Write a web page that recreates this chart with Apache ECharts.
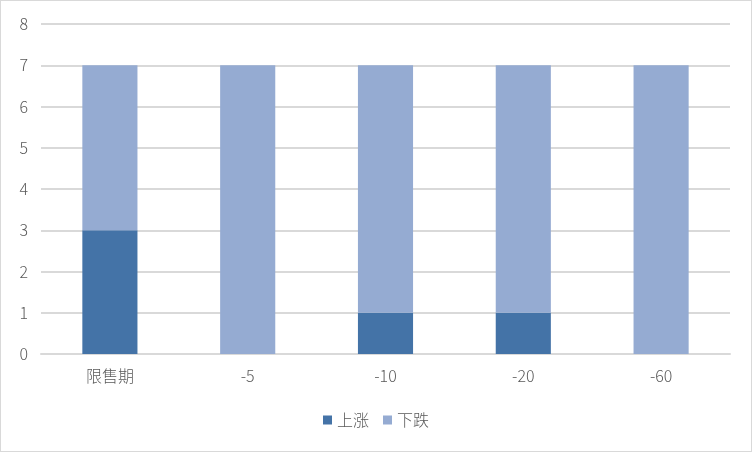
<!DOCTYPE html>
<html>
<head>
<meta charset="utf-8">
<script src="https://cdn.jsdelivr.net/npm/echarts@6/dist/echarts.min.js"></script>
<style>
  html, body { margin: 0; padding: 0; background: #fff; }
  #chart { width: 750px; height: 450px; border: 1px solid #d9d9d9; }
</style>
</head>
<body>
<div id="chart"></div>
<script>
var categories = ['限售期', '-5', '-10', '-20', '-60'];
var upValues = [3, 0, 1, 1, 0];
var downValues = [4, 7, 6, 6, 7];
var yTicks = [0, 8, 1];

var chart = echarts.init(document.getElementById('chart'));
var option = {
    animation: false,
    color: ['#4473A7', '#95ABD2'],
    grid: { left: 40, right: 21, top: 23, bottom: 97 },
    legend: {
        bottom: 18,
        itemWidth: 9,
        itemHeight: 9,
        itemGap: 14,
        icon: 'rect',
        textStyle: { color: '#595959', fontSize: 16, fontFamily: 'Noto Sans CJK SC', fontWeight: 300 },
        data: ['上涨', '下跌']
    },
    xAxis: {
        type: 'category',
        data: categories,
        axisLine: { show: true, lineStyle: { color: '#d9d9d9', width: 2 } },
        axisTick: { show: false },
        axisLabel: { color: '#595959', fontSize: 16, margin: 14, fontFamily: 'Noto Sans CJK SC', fontWeight: 300 }
    },
    yAxis: {
        type: 'value',
        min: yTicks[0],
        max: yTicks[1],
        interval: yTicks[2],
        axisLine: { show: false },
        axisTick: { show: false },
        axisLabel: { color: '#595959', fontSize: 16, margin: 13, fontFamily: 'Noto Sans CJK SC', fontWeight: 300 },
        splitLine: { lineStyle: { color: '#d9d9d9', width: 2 } }
    },
    series: [
        {
            name: '上涨',
            type: 'bar',
            stack: 'total',
            barWidth: '40%',
            data: upValues
        },
        {
            name: '下跌',
            type: 'bar',
            stack: 'total',
            barWidth: '40%',
            data: downValues
        }
    ]
};
chart.setOption(option);
</script>
</body>
</html>
